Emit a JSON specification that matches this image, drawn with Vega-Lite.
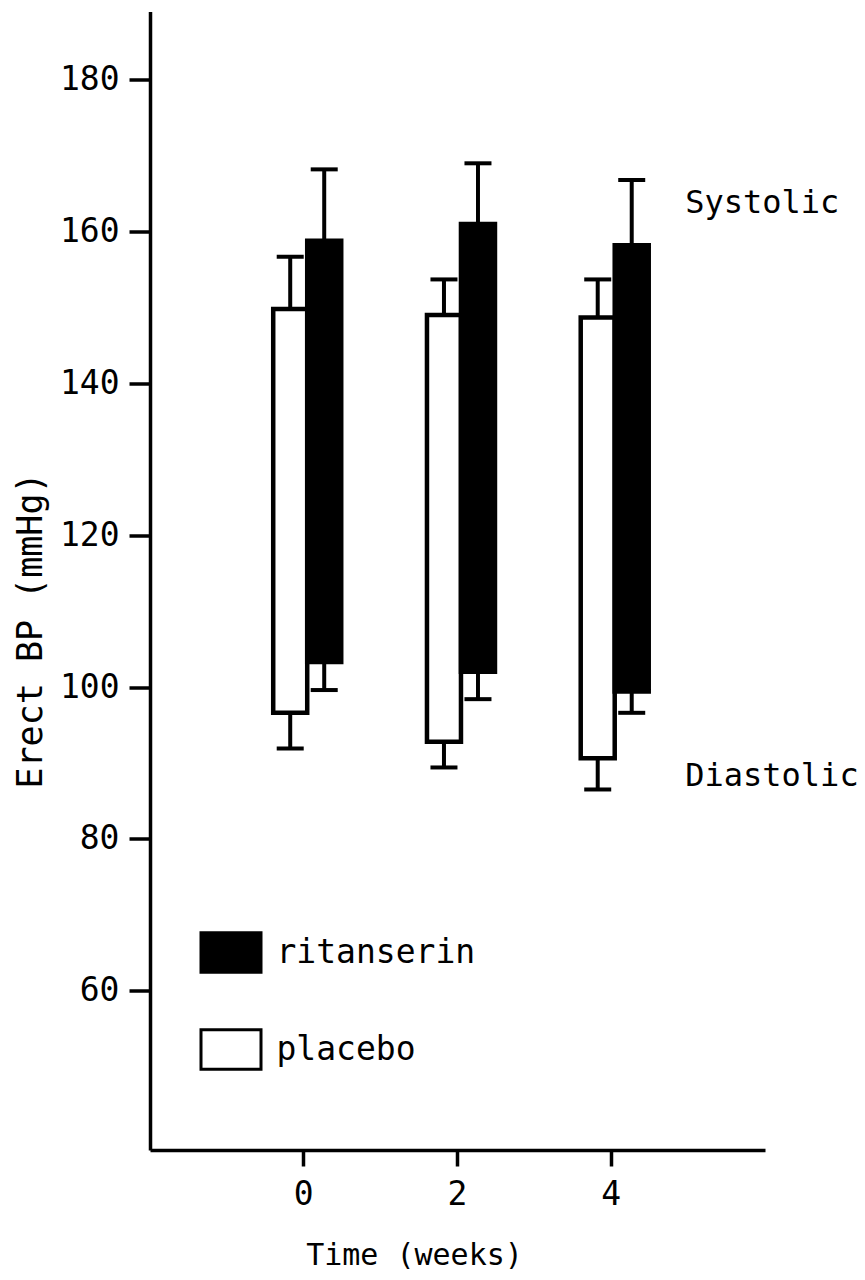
{
  "$schema": "https://vega.github.io/schema/vega-lite/v6.json",
  "autosize": {"type": "none"},
  "padding": {"left": 150, "top": 11.5, "right": 100, "bottom": 130},
  "width": 615,
  "height": 1138.5,
  "background": "white",
  "config": {
    "view": {"stroke": null},
    "font": "DejaVu Sans Mono",
    "axis": {"grid": false, "domainColor": "black", "tickColor": "black", "labelColor": "black", "titleColor": "black", "labelFont": "DejaVu Sans Mono", "titleFont": "DejaVu Sans Mono", "titleFontWeight": "normal"}
  },
  "datasets": {
    "bp": [
      {"week": 0, "group": "placebo", "sys": 149.8, "dia": 96.6, "sysHi": 156.7, "diaLo": 91.9},
      {"week": 2, "group": "placebo", "sys": 149.0, "dia": 92.8, "sysHi": 153.7, "diaLo": 89.4},
      {"week": 4, "group": "placebo", "sys": 148.7, "dia": 90.6, "sysHi": 153.7, "diaLo": 86.5},
      {"week": 0, "group": "ritanserin", "sys": 158.8, "dia": 103.3, "sysHi": 168.2, "diaLo": 99.6},
      {"week": 2, "group": "ritanserin", "sys": 161.0, "dia": 102.0, "sysHi": 169.0, "diaLo": 98.4},
      {"week": 4, "group": "ritanserin", "sys": 158.2, "dia": 99.4, "sysHi": 166.8, "diaLo": 96.6}
    ],
    "notes": [
      {"week": 4, "value": 162.5, "label": "Systolic"},
      {"week": 4, "value": 87.0, "label": "Diastolic"}
    ]
  },
  "data": {"name": "bp"},
  "encoding": {
    "x": {
      "field": "week", "type": "ordinal",
      "scale": {"domain": [0, 2, 4], "paddingInner": 0.1154, "paddingOuter": 0.5577},
      "axis": {"title": "Time (weeks)", "labelAngle": 0, "labelFontSize": 33, "tickSize": 16, "tickWidth": 3.5, "domainWidth": 3.5, "labelPadding": 12, "titleFontSize": 30, "titleX": 264, "titleY": 105, "titleAlign": "center", "titleBaseline": "middle"}
    }
  },
  "layer": [
    {
      "mark": {"type": "rule", "strokeWidth": 4, "color": "black"},
      "encoding": {
        "xOffset": {"field": "group", "scale": {"domain": ["placebo", "ritanserin"], "paddingInner": 0, "paddingOuter": 1, "align": 0.551}},
        "y": {"field": "sys", "type": "quantitative"},
        "y2": {"field": "sysHi"}
      }
    },
    {
      "mark": {"type": "rule", "strokeWidth": 4, "color": "black"},
      "encoding": {
        "xOffset": {"field": "group"},
        "y": {"field": "diaLo", "type": "quantitative"},
        "y2": {"field": "dia"}
      }
    },
    {
      "mark": {"type": "tick", "size": 27, "thickness": 4, "color": "black", "opacity": 1, "orient": "horizontal"},
      "encoding": {
        "xOffset": {"field": "group"},
        "y": {"field": "sysHi", "type": "quantitative"}
      }
    },
    {
      "mark": {"type": "tick", "size": 27, "thickness": 4, "color": "black", "opacity": 1, "orient": "horizontal"},
      "encoding": {
        "xOffset": {"field": "group"},
        "y": {"field": "diaLo", "type": "quantitative"}
      }
    },
    {
      "mark": {"type": "bar", "stroke": "black", "strokeWidth": 4.5, "opacity": 1},
      "encoding": {
        "xOffset": {"field": "group"},
        "y": {
          "field": "dia", "type": "quantitative",
          "scale": {"domain": [39, 189], "nice": false, "zero": false},
          "axis": {"values": [60, 80, 100, 120, 140, 160, 180], "title": "Erect BP (mmHg)", "labelFontSize": 33, "tickSize": 21, "tickWidth": 3.5, "domainWidth": 3.5, "labelPadding": 10, "titleFontSize": 35, "titleX": -120, "titleY": 618.5, "titleAngle": -90, "titleAlign": "center", "titleBaseline": "middle"}
        },
        "y2": {"field": "sys"},
        "fill": {
          "field": "group", "type": "nominal",
          "scale": {"domain": ["ritanserin", "placebo"], "range": ["black", "white"]},
          "legend": {"orient": "none", "legendX": 49.5, "legendY": 909.5, "title": null, "padding": 0, "symbolType": "M-1,-0.66H1V0.66H-1Z", "symbolSize": 3600, "symbolStrokeColor": "black", "symbolStrokeWidth": 3, "symbolOpacity": 1, "labelFont": "DejaVu Sans Mono", "labelFontSize": 33, "labelColor": "black", "labelOffset": 14, "labelLimit": 400, "rowPadding": 39}
        }
      }
    },
    {
      "data": {"name": "notes"},
      "mark": {"type": "text", "align": "left", "baseline": "alphabetic", "dx": 74, "fontSize": 32, "font": "DejaVu Sans Mono", "color": "black"},
      "encoding": {
        "y": {"field": "value", "type": "quantitative"},
        "text": {"field": "label"}
      }
    }
  ]
}
